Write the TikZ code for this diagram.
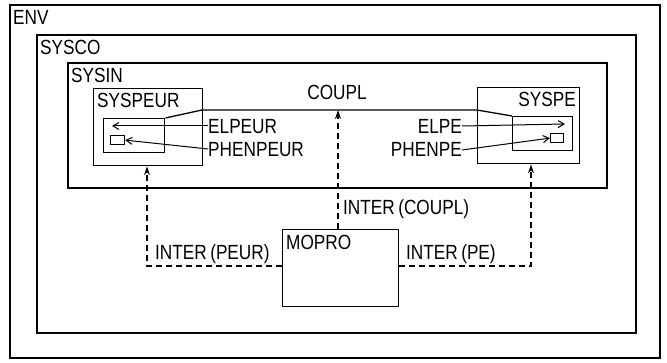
\documentclass[tikz,border=0pt]{standalone}
\usepackage{fontspec}
\setmainfont[FakeStretch=0.84]{Liberation Sans}
\usetikzlibrary{arrows.meta}
\begin{document}
\begin{tikzpicture}[x=1pt,y=-1pt,
  box/.style={draw,line width=1.4pt},
  lbl/.style={inner sep=0pt,font=\fontsize{20.5}{20.5}\selectfont},
  dline/.style={line width=1.3pt,dash pattern=on 6pt off 4pt},
  darrow/.style={dline,-{Stealth[length=9pt,width=6pt]}},
  sarrow/.style={line width=1pt,-{Straight Barb[length=6pt,width=7pt]}},
  coupl/.style={line width=1.3pt}]
\useasboundingbox (0,0) rectangle (667,363);
% containers
\draw[box] (10,5) rectangle (660,358);
\draw[box] (37,35) rectangle (636,333);
\draw[box] (68,63) rectangle (607,188);
\node[lbl,anchor=base west] (envl) at (13,25) {ENV};
\node[lbl,anchor=base west] (syscol) at (40,55) {SYSCO};
\node[lbl,anchor=base west] (sysinl) at (71,83) {SYSIN};
% SYSPEUR
\node[box,anchor=north west,minimum width=109pt,minimum height=77pt,inner sep=0pt] (syspeur) at (93,88) {};
\node[lbl,anchor=base west] (syspeurl) at (97,108) {SYSPEUR};
\node[box,anchor=north west,minimum width=61pt,minimum height=34pt,inner sep=0pt] (peurin) at (103,118) {};
\node[draw,line width=1.2pt,anchor=north west,minimum width=14pt,minimum height=9pt,inner sep=0pt] (peursm) at (110,135) {};
% SYSPE
\node[box,anchor=north west,minimum width=102pt,minimum height=76pt,inner sep=0pt] (syspe) at (477,87) {};
\node[lbl,anchor=base east] (syspel) at (576,107) {SYSPE};
\node[box,anchor=north west,minimum width=60pt,minimum height=34pt,inner sep=0pt] (pein) at (512,116) {};
\node[draw,line width=1.2pt,anchor=north west,minimum width=13pt,minimum height=9pt,inner sep=0pt] (pesm) at (550,133) {};
% MOPRO
\node[box,anchor=north west,minimum width=116pt,minimum height=77pt,inner sep=0pt] (mopro) at (282,229) {};
\node[lbl,anchor=base west] (moprol) at (286,250) {MOPRO};
% labels
\node[lbl,anchor=base] (couplt) at (337,100) {COUPL};
\node[lbl,anchor=base west] (elpeur) at (208,134) {ELPEUR};
\node[lbl,anchor=base west] (phenpeur) at (208,157) {PHENPEUR};
\node[lbl,anchor=base east] (elpe) at (462,134) {ELPE};
\node[lbl,anchor=base east] (phenpe) at (462,157) {PHENPE};
\node[lbl,anchor=base west] (icoupl) at (343,215) {INTER\,(COUPL)};
\node[lbl,anchor=base west] (ipeur) at (155,260) {INTER\,(PEUR)};
\node[lbl,anchor=base west] (ipe) at (406,260) {INTER\,(PE)};
% coupling line
\coordinate (cl) at (202,110);
\coordinate (cr) at (477,110);
\draw[coupl] (peurin.north east) -- (cl) -- (cr) -- (pein.north west);
% solid arrows
\coordinate (elpeurend) at (112,126);
\coordinate (elpeend) at (565,124);
\draw[sarrow] (elpeur.west |- 0,126) -- (elpeurend);
\draw[sarrow] (phenpeur.west |- 0,149) -- (peursm.east);
\draw[sarrow] (elpe.east |- 0,126) -- (elpeend);
\draw[sarrow] (phenpe.east |- 0,150) -- (pesm.west);
% dashed arrows
\coordinate (ctip) at (338,110);
\draw[darrow] (mopro.north -| ctip) -- (ctip);
\coordinate (lc) at (147,266);
\coordinate (rc) at (531,266);
\draw[darrow] (mopro.west |- lc) -- (lc) -- (lc |- syspeur.south);
\draw[darrow] (mopro.east |- rc) -- (rc) -- (rc |- syspe.south);
\end{tikzpicture}
\end{document}
